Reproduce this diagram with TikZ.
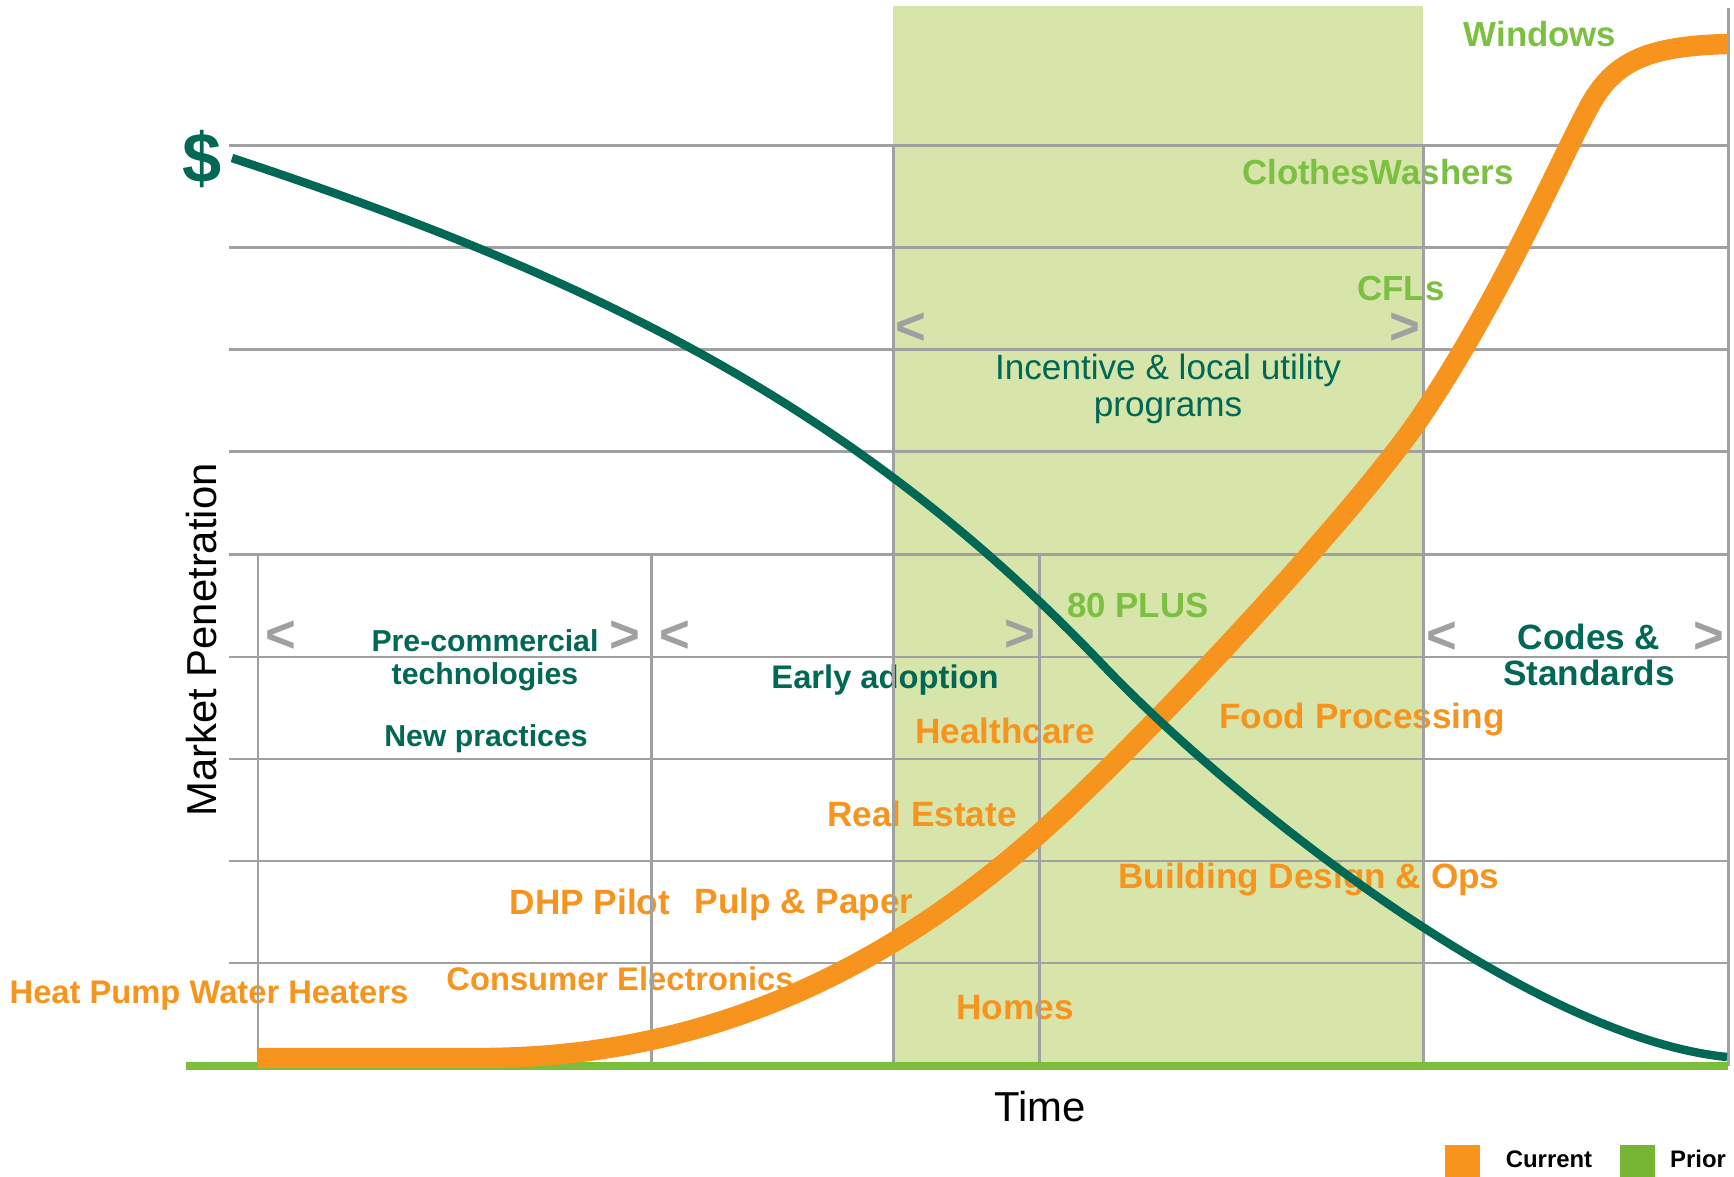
\documentclass[tikz,border=0pt]{standalone}
\usepackage{fontspec}
\setmainfont{Liberation Sans}
\usetikzlibrary{positioning}
\definecolor{mporange}{RGB}{247,148,30}
\definecolor{mpteal}{RGB}{0,104,84}
\definecolor{mplime}{RGB}{124,192,66}
\definecolor{mpband}{RGB}{215,229,170}
\definecolor{mpgrid}{RGB}{160,160,160}
\definecolor{mpbase}{RGB}{122,190,58}
\definecolor{mpprior}{RGB}{118,182,52}

\begin{document}
\begin{tikzpicture}[
    x=0.01cm, y=-0.01cm,
    gridline/.style={draw=mpgrid, line width=0.85pt},
    phase/.style={text=mpteal, font=\fontsize{8.6}{9.4}\selectfont\bfseries, align=center, inner sep=0pt},
    adopter/.style={text=mporange, font=\fontsize{10}{11}\selectfont\bfseries, inner sep=0pt, text height=7.2pt, text depth=0pt},
    smalladopter/.style={adopter, font=\fontsize{9.3}{11}\selectfont\bfseries, text height=6.7pt},
    prior/.style={text=mplime, font=\fontsize{9.9}{11}\selectfont\bfseries, inner sep=0pt, text height=7.1pt, text depth=0pt},
    chev/.style={text=mpgrid, font=\fontsize{15}{15}\selectfont\bfseries, inner sep=0pt},
    axislabel/.style={font=\fontsize{11.9}{13}\selectfont, inner sep=0pt},
    legendkey/.style={minimum width=0.35cm, minimum height=0.32cm, inner sep=0pt},
    legendtext/.style={font=\fontsize{6.8}{8}\selectfont\bfseries, inner sep=0pt, text height=4.9pt, text depth=0pt}
  ]
  \useasboundingbox (0,0) rectangle (1734,1177);
  % incentive band
  \fill[mpband] (893,6) rectangle (1423,1066);

  % phases of the market
  \node[phase] (precomm) at (485,660) {Pre-commercial\\technologies};
  \node[phase, text height=6.2pt, text depth=0pt] (newpract) at (486,736) {New practices};
  \node[phase, font=\fontsize{9.3}{10}\selectfont\bfseries, text height=6.7pt, text depth=0pt] (early) at (885,677) {Early adoption};
  \node[phase, font=\fontsize{10}{10.3}\selectfont] (incent) at (1168,389) {Incentive \& local utility\\programs};
  \node[phase, font=\fontsize{10}{10.3}\selectfont\bfseries] (codes) at (1589,655) {Codes \&\\Standards};
  \foreach \x/\y/\s [count=\i] in {281/637/<, 625/637/>, 675/637/<, 1020/636/>,
                                   911/329/<, 1405/329/>, 1442/638/<, 1709/638/>}
    \node[chev] (chev\i) at (\x,\y) {\s};

  % programs and technologies
  \node[prior] (windows) at (1540,34) {Windows};
  \node[prior] (washers) at (1378,172) {ClothesWashers};
  \node[prior] (cfls) at (1401,288) {CFLs};
  \node[prior] (plus80) at (1138,605) {80 PLUS};
  \node[adopter] (food) at (1362,716) {Food Processing};
  \node[adopter] (health) at (1005,731) {Healthcare};
  \node[adopter] (realest) at (922,814) {Real Estate};
  \node[adopter] (building) at (1309,876) {Building Design \& Ops};
  \node[adopter] (pulp) at (804,901) {Pulp \& Paper};
  \node[adopter] (dhp) at (590,902) {DHP Pilot};
  \node[smalladopter] (consumer) at (620,979) {Consumer Electronics};
  \node[smalladopter] (hpwh) at (209,992) {Heat Pump Water Heaters};
  \node[adopter] (homes) at (1015,1007) {Homes};

  % grid
  \foreach \y in {146,248,350,452,555,657,759,861,963}
    \draw[gridline] (229,\y) -- (1728,\y);
  \foreach \x in {258,651,1039}
    \draw[gridline] (\x,555) -- (\x,1066);
  \foreach \x in {893,1423}
    \draw[gridline] (\x,146) -- (\x,1066);
  \draw[gridline] (1728,8) -- (1728,1066);
  \draw[mpbase, line width=2.3pt] (186,1066) -- (1728,1066);

  % adoption and cost curves
  \draw[mporange, line width=5.8pt] (258,1058) -- (480,1058)
    .. controls (700,1058) and (880,975) .. (1040,833)
    .. controls (1140,744) and (1350,520) .. (1420,418)
    .. controls (1500,300) and (1560,160) .. (1590,105)
    .. controls (1615,60) and (1650,46) .. (1728,44);
  \draw[mpteal, line width=2.4pt] (232,158)
    .. controls (582,274) and (850,400) .. (1100,662)
    .. controls (1230,799) and (1527,1037) .. (1727,1057);
  \node[text=mpteal, font=\fontsize{20}{20}\selectfont\bfseries, inner sep=0pt] (dollar) at (202,159) {\$};

  % axes
  \node[axislabel, rotate=90] (ylabel) at (202,640) {Market Penetration};
  \node[axislabel] (xlabel) at (1040,1107) {Time};

  % legend
  \node[legendkey, fill=mporange] (keycur) at (1462,1161) {};
  \node[legendtext] (txtcur) at (1549,1159) {Current};
  \node[legendkey, fill=mpprior] (keyprior) at (1637,1161) {};
  \node[legendtext] (txtprior) at (1698,1159) {Prior};
\end{tikzpicture}
\end{document}
